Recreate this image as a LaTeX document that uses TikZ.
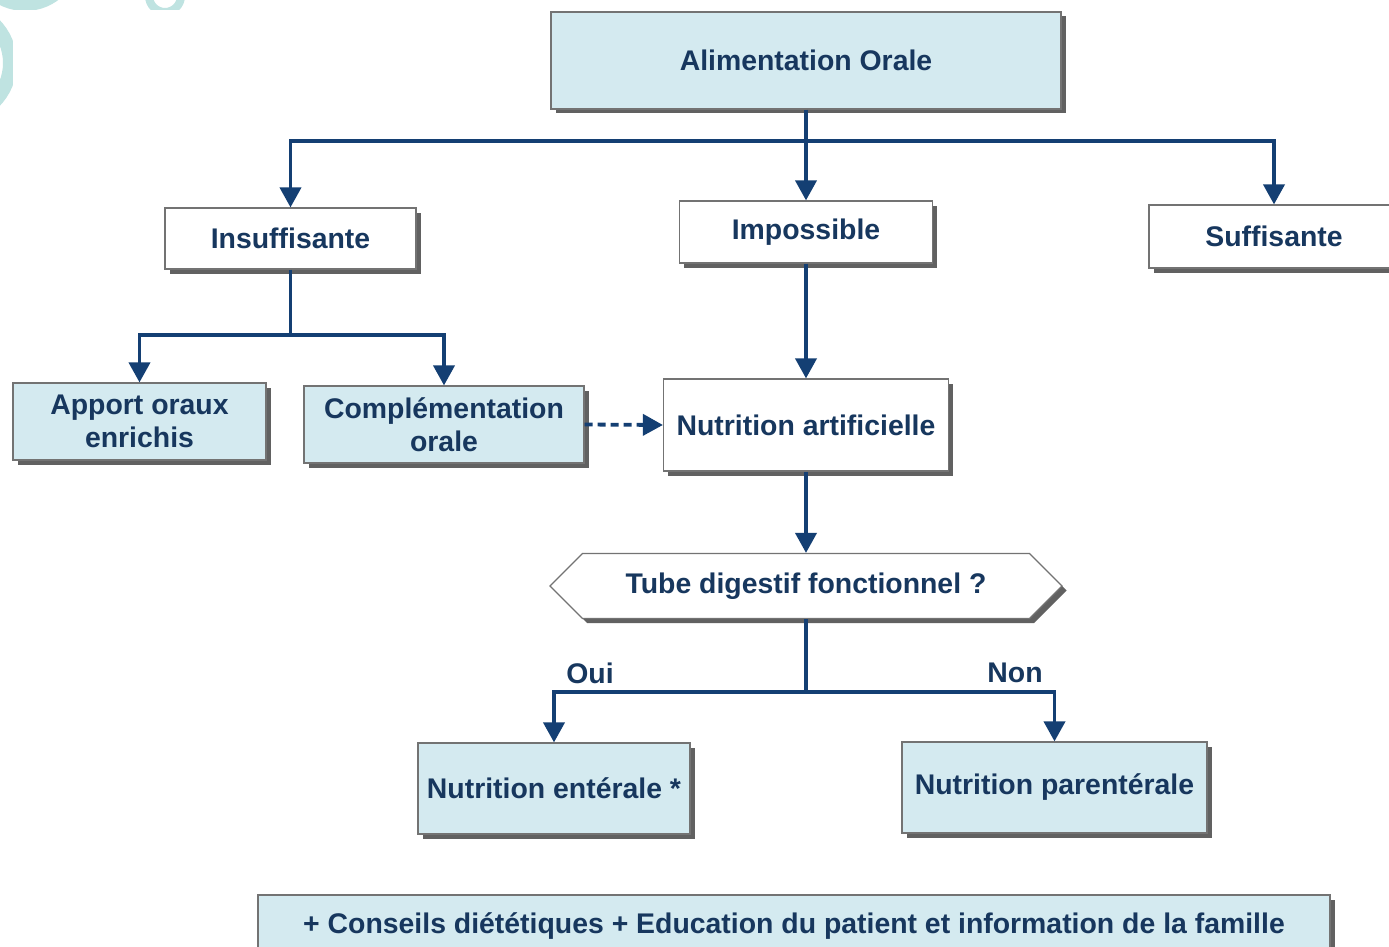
\documentclass[tikz,border=0pt]{standalone}
\usepackage{fontspec}
\setmainfont{Liberation Sans}
\usetikzlibrary{arrows.meta,shadows,shapes.symbols}

\definecolor{navy}{HTML}{143F73}
\definecolor{ink}{HTML}{17375E}
\definecolor{paleblue}{HTML}{D4EAF0}
\definecolor{ringteal}{HTML}{BFE3E1}

\begin{document}
\begin{tikzpicture}[x=1pt,y=-1pt,
  box/.style={draw=black!55, line width=1.2pt, inner sep=0pt, align=center,
    text=ink, font=\fontsize{28.4}{33}\selectfont\bfseries,
    drop shadow={shadow xshift=4.5pt, shadow yshift=-4.5pt, fill=black!62, opacity=1}},
  bluebox/.style={box, fill=paleblue},
  whitebox/.style={box, fill=white},
  link/.style={draw=navy, line width=3.8pt},
  arr/.style={link, -{Triangle[width=21pt,length=20pt]}},
  dasharr/.style={arr, dash pattern=on 8pt off 5pt},
  lbl/.style={text=ink, font=\fontsize{28.4}{33}\selectfont\bfseries, inner sep=0pt}
]
\useasboundingbox (0,0) rectangle (1389,947);
\clip (0,0) rectangle (1389,947);

% page and corner ornament
\fill[white] (0,0) rectangle (1389,947);
\draw[ringteal, line width=12pt] (25,-45) circle (50);
\draw[ringteal, line width=14pt] (-45,63) circle (55);
\draw[ringteal, line width=8pt] (165,-4) circle (16);
\fill[white] (13,10) rectangle (1389,947);

% boxes
\node[bluebox, minimum width=510pt, minimum height=97pt] (top) at (806,60.5) {Alimentation Orale};
\node[whitebox, minimum width=251pt, minimum height=61pt] (insuf) at (290.5,238.5) {Insuffisante};
\node[whitebox, minimum width=253pt, minimum height=62pt] (imposs) at (806,232) {Impossible};
\node[whitebox, minimum width=250pt, minimum height=63pt] (suff) at (1274,236.5) {Suffisante};
\node[bluebox, minimum width=253pt, minimum height=77pt] (apport) at (139.5,421.5) {Apport oraux\\enrichis};
\node[bluebox, minimum width=280pt, minimum height=77pt] (compl) at (444,424.5) {Complémentation\\orale};
\node[whitebox, minimum width=285pt, minimum height=92pt] (nutart) at (806,425) {Nutrition artificielle};
\node[whitebox, signal, signal to=west and east, signal pointer angle=90,
      minimum width=512pt, minimum height=65pt] (tube) at (806,586) {Tube digestif fonctionnel ?};
\node[bluebox, minimum width=272pt, minimum height=91pt] (ent) at (554,788.5) {Nutrition entérale *};
\node[bluebox, minimum width=305pt, minimum height=91pt] (par) at (1054.5,787.5) {Nutrition parentérale};
\node[bluebox, minimum width=1072pt, minimum height=62pt] (conseils) at (794,926) {+ Conseils diététiques + Education du patient et information de la famille};

% connectors
\coordinate (j1) at (806,141);
\draw[link] (top.south) -- (j1);
\draw[arr] (j1) -| (insuf.north);
\draw[arr] (j1) -| (suff.north);
\draw[arr] (j1) -- (imposs.north);

\coordinate (j2) at (290.5,335);
\draw[link] (insuf.south) -- (j2);
\draw[arr] (j2) -| (apport.north);
\draw[arr] (j2) -| (compl.north);

\draw[arr] (imposs.south) -- (nutart.north);
\draw[dasharr] (compl.east) -- (nutart.west);
\draw[arr] (nutart.south) -- (tube.north);

\coordinate (j3) at (806,692);
\draw[link] (tube.south) -- (j3);
\draw[arr] (j3) -| (ent.north);
\draw[arr] (j3) -| (par.north);

\node[lbl] (oui) at (590,673) {Oui};
\node[lbl] (non) at (1015,673) {Non};
\end{tikzpicture}
\end{document}
